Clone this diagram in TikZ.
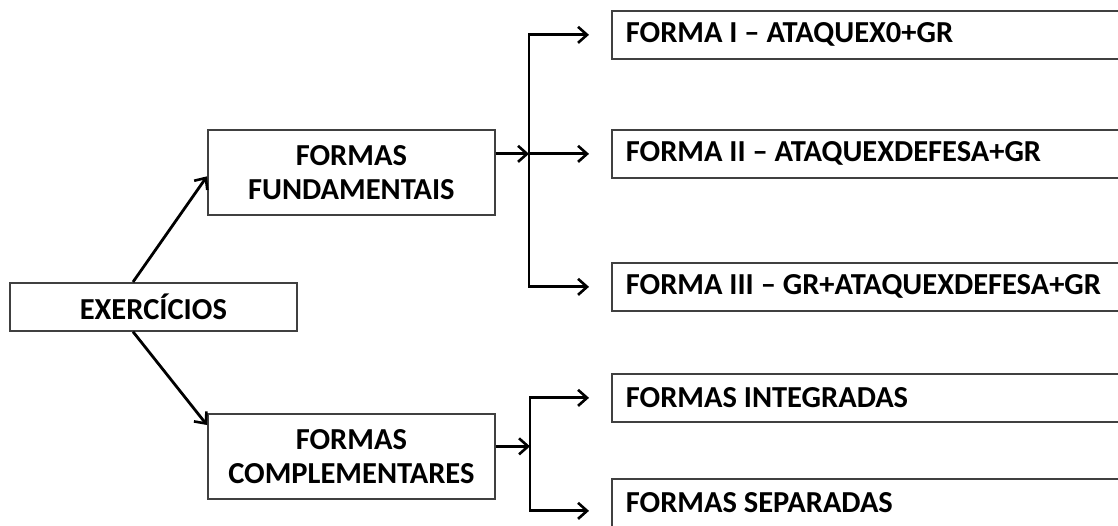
\documentclass[tikz,border=0pt]{standalone}
\usepackage{fontspec}
\setmainfont{Carlito}
\newcommand{\diagfont}{\bfseries\fontsize{30.5}{34}\selectfont}
\usetikzlibrary{arrows.meta,calc}
\begin{document}
\begin{tikzpicture}[x=1pt,y=-1pt,
  box/.style={draw=black!75, line width=1.7pt, fill=white,
    font=\diagfont, align=center, inner sep=0pt,
    execute at begin node={\spaceskip=0.226em\relax}},
  rbox/.style={draw=black!75, line width=1.7pt, fill=white,
    font=\diagfont, align=left,
    text width=532pt, inner xsep=14pt, inner ysep=0pt, minimum height=48pt,
    anchor=north west, execute at begin node={\spaceskip=0.226em\relax}},
  arr/.style={draw=black, line width=2.8pt, line join=miter,
    -{Straight Barb[length=9pt,width=16pt,line width=2.6pt]}},
  arrboth/.style={draw=black, line width=2.8pt, line join=miter,
    {Straight Barb[length=9pt,width=16pt,line width=2.6pt]}-{Straight Barb[length=9pt,width=16pt,line width=2.6pt]}}
]
\useasboundingbox (0,0) rectangle (1118,525);
\clip (0,0) rectangle (1118,525);

% left and middle boxes
\node[box, minimum width=287pt, minimum height=48pt, anchor=north west] (ex) at (9,282) {EXERCÍCIOS};
\node[box, minimum width=287pt, minimum height=85pt, anchor=north west] (ff) at (207,129) {FORMAS\\FUNDAMENTAIS};
\node[box, minimum width=287pt, minimum height=85pt, anchor=north west] (fc) at (207,413) {FORMAS\\COMPLEMENTARES};

% right boxes
\node[rbox] (f1) at (611,10)  {FORMA I – ATAQUEX0+GR};
\node[rbox] (f2) at (611,129) {FORMA II – ATAQUEXDEFESA+GR};
\node[rbox] (f3) at (611,262) {FORMA III – GR+ATAQUEXDEFESA+GR};
\node[rbox] (f4) at (611,373) {FORMAS INTEGRADAS};
\node[rbox] (f5) at (611,478) {FORMAS SEPARADAS};

% bus positions
\coordinate (bx) at (529,0);
\coordinate (by) at (530,0);
\coordinate (f5in) at ($(f5.west)+(0,8)$);
\coordinate (exup) at ($(ex.north west)+(124,0)$);
\coordinate (exdn) at ($(ex.south west)+(124,0)$);
\coordinate (ffin) at ($(ff.west)+(0,4)$);
\coordinate (fcin) at ($(fc.north west)+(0,12)$);
\coordinate (fcout) at ($(fc.east)+(0,-10)$);

% left connectors
\draw[arr] (exup) -- (ffin);
\draw[arr] (exdn) -- (fcin);

% upper group
\draw[arr] (ff.east |- f2.west) -- (f2.west -| bx);
\draw[arrboth, shorten <=22pt, shorten >=22pt] (f1.west) -| (f3.west -| bx) -- (f3.west);
\draw[arr, shorten >=22pt] (f2.west -| bx) -- (f2.west);

% lower group
\draw[arr] (fcout) -- (fcout -| by);
\draw[arrboth, shorten <=22pt, shorten >=22pt] (f4.west) -| (f5in -| by) -- (f5in);
\end{tikzpicture}
\end{document}
